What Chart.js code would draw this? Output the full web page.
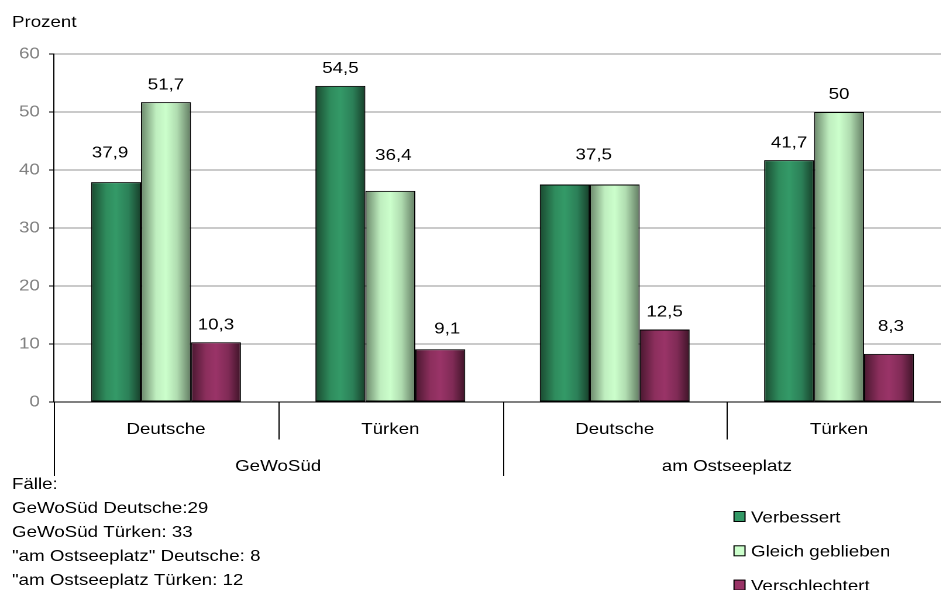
<!DOCTYPE html>
<html lang="de">
<head>
<meta charset="utf-8">
<title>Veränderung der Wohnsituation</title>
<script src="https://cdn.jsdelivr.net/npm/chart.js@4.4.1/dist/chart.umd.min.js"></script>
<style>
  html, body { margin: 0; padding: 0; background: #fff; overflow: hidden; }
  /* die ganze Grafik wird etwas in die Breite gezogen */
  #wrap { width: 822px; height: 590px; transform: scaleX(1.17); transform-origin: 0 0; }
</style>
</head>
<body>
<div id="wrap"><canvas id="chart" width="822" height="590"></canvas></div>
<script>
// ═══════════ DATEN ═══════════
const kategorien = ['Deutsche', 'Türken', 'Deutsche', 'Türken'];
const gruppen = ['GeWoSüd', 'am Ostseeplatz'];
const verbessert = [37.9, 54.5, 37.5, 41.7];
const gleichGeblieben = [51.7, 36.4, 37.5, 50];
const verschlechtert = [10.3, 9.1, 12.5, 8.3];
const yTicks = [0, 10, 20, 30, 40, 50, 60];
const faelle = [
  'Fälle:',
  'GeWoSüd Deutsche:29',
  'GeWoSüd Türken: 33',
  '"am Ostseeplatz" Deutsche: 8',
  '"am Ostseeplatz Türken: 12'
];

// ═══════════ LAYOUT ═══════════
const SX = 1.17;            // horizontale Streckung (siehe CSS)
const FONT = "'Liberation Sans', Arial, sans-serif";
const CAT_PCT = 0.668;

// Verschiebung der Wertebeschriftungen [dx, dy] in Pixeln, null = ausgeblendet
const labelShift = [
  [[-6, -12], [0, 0], [29, -12], [0, 0]],
  [[0, 0], [3, -18], null, [0, 0]],
  [[0, 0], [7, -3], [0, 0], [2, -10]]
];

Chart.defaults.font.family = FONT;
Chart.defaults.font.size = 16;
Chart.defaults.color = '#000';

// horizontaler Verlauf pro Balken (dunkle Kanten, heller Kern)
function balkenVerlauf(stops) {
  return (ctx) => {
    const chart = ctx.chart;
    const x = chart.scales.x;
    if (!x || ctx.type !== 'data') return stops[2][1];
    const catW = (x.right - x.left) / kategorien.length;
    const barW = catW * CAT_PCT / 3;
    const left = x.getPixelForValue(ctx.dataIndex) - 1.5 * barW + ctx.datasetIndex * barW;
    if (!isFinite(left) || !isFinite(barW) || barW <= 0) return stops[2][1];
    const g = chart.ctx.createLinearGradient(left, 0, left + barW, 0);
    stops.forEach(([o, c]) => g.addColorStop(o, c));
    return g;
  };
}

const reihen = [
  {
    label: 'Verbessert', data: verbessert, swatch: '#339966',
    stops: [[0, '#1a4a30'], [0.3, '#2f8c5d'], [0.5, '#349a68'], [0.75, '#2c8058'], [1, '#173f2a']]
  },
  {
    label: 'Gleich geblieben', data: gleichGeblieben, swatch: '#ccffcc',
    stops: [[0, '#6a876a'], [0.3, '#bfeebf'], [0.5, '#ccffcc'], [0.72, '#b0dcb0'], [1, '#627c62']]
  },
  {
    label: 'Verschlechtert', data: verschlechtert, swatch: '#993366',
    stops: [[0, '#4a1830'], [0.3, '#8c2f5d'], [0.5, '#9a3468'], [0.75, '#802b56'], [1, '#3f1428']]
  }
];

// ═══════════ PLUGIN: Beschriftungen, Gruppen, Legende ═══════════
const extras = {
  id: 'extras',
  afterDatasetsDraw(chart) {
    const { ctx } = chart;
    ctx.save();
    ctx.font = `16px ${FONT}`;
    ctx.fillStyle = '#000';
    ctx.textAlign = 'center';
    ctx.textBaseline = 'alphabetic';
    chart.data.datasets.forEach((ds, di) => {
      chart.getDatasetMeta(di).data.forEach((bar, i) => {
        const shift = labelShift[di][i];
        if (!shift) return;
        const txt = String(ds.data[i]).replace('.', ',');
        ctx.fillText(txt, bar.x + shift[0] / SX, bar.y - 12.8 + shift[1]);
      });
    });
    ctx.restore();
  },
  afterDraw(chart) {
    const { ctx, chartArea } = chart;
    const x = chart.scales.x;
    const catW = (x.right - x.left) / kategorien.length;
    const base = chartArea.bottom;
    ctx.save();

    // Trennstriche unter der Achse
    ctx.strokeStyle = '#000';
    ctx.lineWidth = 1;
    for (let i = 0; i <= kategorien.length; i++) {
      const px = Math.round(x.left + i * catW) + 0.5;
      ctx.beginPath();
      ctx.moveTo(px, base);
      ctx.lineTo(px, i % 2 === 0 ? 476 : 439.5);
      ctx.stroke();
    }

    ctx.font = `16px ${FONT}`;
    ctx.fillStyle = '#000';

    // Gruppen
    ctx.textAlign = 'center';
    gruppen.forEach((g, gi) => {
      ctx.fillText(g, x.left + (gi * 2 + 1) * catW, 471);
    });

    // Achsentitel
    ctx.textAlign = 'left';
    ctx.fillText('Prozent', 12 / SX, 27);

    // Fallzahlen
    faelle.forEach((t, i) => ctx.fillText(t, 12 / SX, 489 + i * 24));

    // Legende
    reihen.forEach((r, i) => {
      const top = 511 + i * 34.3;
      ctx.fillStyle = r.swatch;
      ctx.fillRect(734 / SX, top, 11 / SX, 11);
      ctx.strokeStyle = '#000';
      ctx.strokeRect(734 / SX, top + 0.5, 11 / SX, 10);
      ctx.fillStyle = '#000';
      ctx.fillText(r.label, 751 / SX, 522.3 + i * 34.3);
    });
    ctx.restore();
  }
};

// ═══════════ CHART ═══════════
new Chart(document.getElementById('chart'), {
  type: 'bar',
  data: {
    labels: kategorien,
    datasets: reihen.map(r => ({
      label: r.label,
      data: r.data,
      backgroundColor: balkenVerlauf(r.stops),
      borderColor: '#000',
      borderWidth: 1,
      borderSkipped: false,
      categoryPercentage: CAT_PCT,
      barPercentage: 1
    }))
  },
  options: {
    responsive: false,
    devicePixelRatio: 2,
    animation: false,
    layout: { padding: { top: 54, right: 9, left: 0, bottom: 0 } },
    plugins: {
      legend: { display: false },
      tooltip: { enabled: false }
    },
    scales: {
      x: {
        grid: { display: false },
        border: { color: '#000', width: 1 },
        ticks: { color: '#000', padding: 10, maxRotation: 0, font: { size: 16 } },
        afterFit: (s) => { s.height = 188; }
      },
      y: {
        min: yTicks[0],
        max: yTicks[yTicks.length - 1],
        afterBuildTicks: (s) => { s.ticks = yTicks.map(v => ({ value: v })); },
        grid: { color: '#959595', tickColor: '#000', tickLength: 4 },
        border: { color: '#000', width: 1 },
        ticks: { color: '#808080', padding: 8, font: { size: 16 } },
        afterFit: (s) => { s.width = 46; }
      }
    }
  },
  plugins: [extras]
});
</script>
</body>
</html>
